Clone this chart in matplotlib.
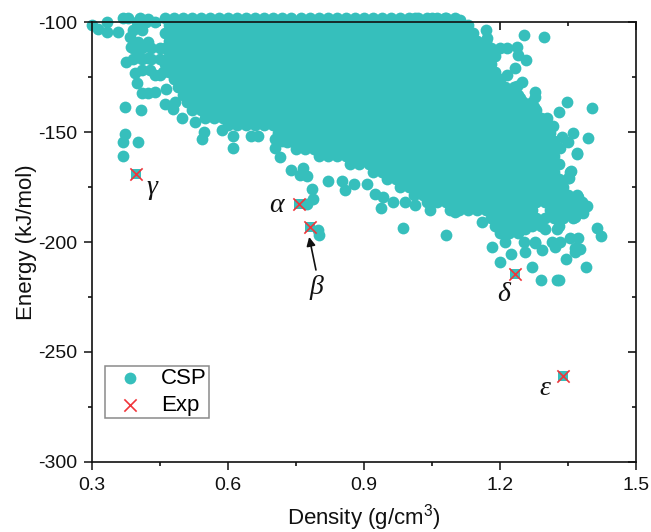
import matplotlib
matplotlib.use("Agg")
import matplotlib.pyplot as plt

plt.rcParams['font.family'] = ['Liberation Sans', 'DejaVu Sans']
plt.rcParams['mathtext.default'] = 'regular'

# dense cloud of the CSP structures, read band by band (energy, densities)
band_energy = [-98, -101.5, -105, -108.5, -112, -115.5, -119, -122.5, -126, -129.5, -133, -136.5, -140, -143.5,
               -147, -150.5, -154, -157.5, -161, -164.5, -168, -171.5, -175, -178.5, -182, -185.5, -189, -192.5, -196]
band_density = [
 [.46,.48,.50,.52,.54,.56,.58,.60,.62,.64,.66,.68,.70,.72,.74,.76,.78,.80,.82,.84,.86,.88,.90,.92,.94,.96,.98,1.00,1.02,1.04,1.06,1.08,1.10],
 [.47,.49,.51,.53,.55,.57,.59,.61,.63,.65,.67,.69,.71,.73,.75,.77,.79,.81,.83,.85,.87,.89,.91,.93,.95,.97,.99,1.01,1.03,1.05,1.07,1.09,1.11,1.13],
 [.46,.48,.50,.52,.54,.56,.58,.60,.62,.64,.66,.68,.70,.72,.74,.76,.78,.80,.82,.84,.86,.88,.90,.92,.94,.96,.98,1.00,1.02,1.04,1.06,1.08,1.10,1.12,1.14],
 [.47,.49,.51,.53,.55,.57,.59,.61,.63,.65,.67,.69,.71,.73,.75,.77,.79,.81,.83,.85,.87,.89,.91,.93,.95,.97,.99,1.01,1.03,1.05,1.07,1.09,1.11,1.13,1.15,1.17],
 [.46,.48,.50,.52,.54,.56,.58,.60,.62,.64,.66,.68,.70,.72,.74,.76,.78,.80,.82,.84,.86,.88,.90,.92,.94,.96,.98,1.00,1.02,1.04,1.06,1.08,1.10,1.12,1.14,1.16,1.18,1.20],
 [.47,.49,.51,.53,.55,.57,.59,.61,.63,.65,.67,.69,.71,.73,.75,.77,.79,.81,.83,.85,.87,.89,.91,.93,.95,.97,.99,1.01,1.03,1.05,1.07,1.09,1.11,1.13,1.15,1.17,1.19],
 [.46,.48,.50,.52,.54,.56,.58,.60,.62,.64,.66,.68,.70,.72,.74,.76,.78,.80,.82,.84,.86,.88,.90,.92,.94,.96,.98,1.00,1.02,1.04,1.06,1.08,1.10,1.12,1.14,1.16,1.18],
 [.47,.49,.51,.53,.55,.57,.59,.61,.63,.65,.67,.69,.71,.73,.75,.77,.79,.81,.83,.85,.87,.89,.91,.93,.95,.97,.99,1.01,1.03,1.05,1.07,1.09,1.11,1.13,1.15,1.17,1.19],
 [.48,.50,.52,.54,.56,.58,.60,.62,.64,.66,.68,.70,.72,.74,.76,.78,.80,.82,.84,.86,.88,.90,.92,.94,.96,.98,1.00,1.02,1.04,1.06,1.08,1.10,1.12,1.14,1.16,1.18,1.20],
 [.49,.51,.53,.55,.57,.59,.61,.63,.65,.67,.69,.71,.73,.75,.77,.79,.81,.83,.85,.87,.89,.91,.93,.95,.97,.99,1.01,1.03,1.05,1.07,1.09,1.11,1.13,1.15,1.17,1.19,1.21,1.23],
 [.50,.52,.54,.56,.58,.60,.62,.64,.66,.68,.70,.72,.74,.76,.78,.80,.82,.84,.86,.88,.90,.92,.94,.96,.98,1.00,1.02,1.04,1.06,1.08,1.10,1.12,1.14,1.16,1.18,1.20,1.22,1.24],
 [.51,.53,.55,.57,.59,.61,.63,.65,.67,.69,.71,.73,.75,.77,.79,.81,.83,.85,.87,.89,.91,.93,.95,.97,.99,1.01,1.03,1.05,1.07,1.09,1.11,1.13,1.15,1.17,1.19,1.21,1.23,1.25,1.27],
 [.52,.54,.56,.58,.60,.62,.64,.66,.68,.70,.72,.74,.76,.78,.80,.82,.84,.86,.88,.90,.92,.94,.96,.98,1.00,1.02,1.04,1.06,1.08,1.10,1.12,1.14,1.16,1.18,1.20,1.22,1.24,1.26,1.28],
 [.55,.57,.59,.61,.63,.65,.67,.69,.71,.73,.75,.77,.79,.81,.83,.85,.87,.89,.91,.93,.95,.97,.99,1.01,1.03,1.05,1.07,1.09,1.11,1.13,1.15,1.17,1.19,1.21,1.23,1.25,1.27,1.29],
 [.60,.62,.64,.66,.68,.70,.72,.74,.76,.78,.80,.82,.84,.86,.88,.90,.92,.94,.96,.98,1.00,1.02,1.04,1.06,1.08,1.10,1.12,1.14,1.16,1.18,1.20,1.22,1.24,1.26,1.28,1.30],
 [.71,.73,.75,.77,.79,.81,.83,.85,.87,.89,.91,.93,.95,.97,.99,1.01,1.03,1.05,1.07,1.09,1.11,1.13,1.15,1.17,1.19,1.21,1.23,1.25,1.27,1.29,1.31],
 [.72,.74,.76,.78,.80,.82,.84,.86,.88,.90,.92,.94,.96,.98,1.00,1.02,1.04,1.06,1.08,1.10,1.12,1.14,1.16,1.18,1.20,1.22,1.24,1.26,1.28,1.30,1.32],
 [.75,.77,.79,.81,.83,.85,.87,.89,.91,.93,.95,.97,.99,1.01,1.03,1.05,1.07,1.09,1.11,1.13,1.15,1.17,1.19,1.21,1.23,1.25,1.27,1.29,1.31],
 [.80,.82,.84,.86,.88,.90,.92,.94,.96,.98,1.00,1.02,1.04,1.06,1.08,1.10,1.12,1.14,1.16,1.18,1.20,1.22,1.24,1.26,1.28,1.30,1.32],
 [.87,.89,.91,.93,.95,.97,.99,1.01,1.03,1.05,1.07,1.09,1.11,1.13,1.15,1.17,1.19,1.21,1.23,1.25,1.27,1.29,1.31,1.33],
 [.92,.94,.96,.98,1.00,1.02,1.04,1.06,1.08,1.10,1.12,1.14,1.16,1.18,1.20,1.22,1.24,1.26,1.28,1.30,1.32],
 [.95,.97,.99,1.01,1.03,1.05,1.07,1.09,1.11,1.13,1.15,1.17,1.19,1.21,1.23,1.25,1.27,1.29,1.31,1.33],
 [.98,1.00,1.02,1.04,1.06,1.08,1.10,1.12,1.14,1.16,1.18,1.20,1.22,1.24,1.26,1.28,1.30,1.32,1.34],
 [1.01,1.03,1.05,1.07,1.09,1.11,1.13,1.15,1.17,1.19,1.21,1.23,1.25,1.27,1.29,1.31,1.33,1.35,1.37],
 [1.04,1.06,1.08,1.10,1.12,1.14,1.16,1.18,1.20,1.22,1.24,1.26,1.28,1.30,1.32,1.34,1.36,1.38],
 [1.09,1.11,1.13,1.15,1.17,1.19,1.21,1.23,1.25,1.27,1.31,1.33,1.35,1.37],
 [1.18,1.20,1.22,1.24,1.26,1.28,1.30,1.32,1.34,1.36],
 [1.19,1.21,1.23,1.25,1.27,1.29,1.33],
 [1.20,1.22,1.24],
]

# individually readable CSP points around the cloud
outlier_density = [.299,.314,.334,.334,.357,.369,.380,.406,.424,.391,.384,.410,.387,.424,.402,.376,.402,.424,.395,.410,
                   .428,.399,.410,.424,.439,.463,.373,.408,.460,.479,.483,.498,.373,.369,.402,.369,.542,.612,.527,.546,
                   .586,.610,.651,.667,.704,.731,.704,.715,.740,.759,.774,.766,.821,.851,.858,.878,.786,.788,.774,.799,
                   .801,.457,.494,.512,1.169,1.171,1.254,1.296,1.215,1.237,1.240,1.257,1.233,1.215,1.248,1.237,1.277,1.277,
                   1.244,1.274,1.347,1.330,1.402,1.304,1.318,1.360,1.336,1.394,1.351,1.370,1.332,1.356,1.351,.907,.924,.941,
                   .937,.965,.990,1.013,1.046,.987,1.080,1.101,1.130,1.160,1.354,1.373,1.391,1.384,1.365,1.415,1.422,1.354,
                   1.373,1.314,1.332,1.252,1.277,1.049,1.079,1.112,1.013,1.182,1.200,1.224,1.271,1.291,1.325,1.331,1.346,1.390,
                   1.255,1.277,1.293,1.321,1.366,1.377,1.366,1.211,1.299,1.325,1.255,1.369,1.354,1.353,
                   .40,.42,.44,.39,.41,.43,.45,.39,.41,.43,.45,.44,.45]
outlier_energy = [-101.4,-103.2,-99.8,-104.7,-104.7,-98.3,-98.3,-98.0,-98.6,-103.6,-106.7,-103.6,-111.2,-109,-109,-118.3,-115.8,-116.5,-123.3,-121.8,
                  -121.8,-127.9,-132.4,-132.4,-131.7,-130.6,-138.8,-140,-137.4,-139.5,-136.2,-143.5,-151,-154.4,-154.7,-160.9,-153.3,-157.4,-145.3,-149.8,
                  -149.1,-151.8,-151.8,-151.8,-153.3,-154.7,-157.4,-161.2,-167.3,-169.5,-170,-166.5,-172.3,-172.1,-176.4,-173.6,-175.9,-180.6,-182.7,-194.5,
                  -196.8,-122.6,-126.4,-130.2,-103.6,-107.4,-105.9,-107,-111.7,-111.2,-115,-117.3,-121.1,-124.1,-127.1,-129.1,-132,-134,
                  -134.7,-138.5,-136.5,-140.8,-139,-143.5,-147.1,-150.6,-152.4,-152.9,-154.7,-159.5,-157.4,-167.7,-171.1,-173.8,-178.3,-179.4,
                  -184.7,-181.7,-182,-183.2,-185.5,-193.5,-196.8,-186.2,-184.7,-190.8,-179.4,-179.4,-183.6,-187,-188.5,-193.5,-197.1,-198.3,
                  -198,-199.8,-200.1,-199.8,-200.1,-98.3,-98.3,-99.1,-98.3,-202.1,-209.3,-205.5,-211.2,-217.3,-217.3,-217.3,-207.7,-211.5,
                  -204.4,-200.6,-203.7,-202.1,-202.9,-203.4,-204.4,-199.9,-194.3,-194.3,-194.3,-160,-168,-171,
                  -100,-100,-100,-112,-112,-112,-112,-117,-117,-117,-117,-124,-124]

# experimental forms
exp_names = ['γ', 'α', 'β', 'δ', 'ε']
exp_density = [.398, .757, .780, 1.232, 1.338]
exp_energy = [-169, -182.5, -193, -214.6, -261]

label_density = [.432, .708, .794, 1.207, 1.30]
label_energy = [-175, -183.6, -220.5, -224, -266.8]

x_ticks = [0.3, 0.6, 0.9, 1.2, 1.5]
x_minor = [0.45, 0.75, 1.05, 1.35]
y_ticks = [-100, -150, -200, -250, -300]
y_minor = [-125, -175, -225, -275]

COLOR = '#36BFBC'
RED = '#F0353A'

fig = plt.figure(figsize=(6.51, 5.32), dpi=100)
W, H = 651, 532
ax = fig.add_axes([92/W, 1-462/H, (636-92)/W, (462-22)/H])

xs, ys = [], []
for e, row in zip(band_energy, band_density):
    xs.extend(row)
    ys.extend([e]*len(row))
xs.extend(outlier_density)
ys.extend(outlier_energy)
ax.scatter(xs, ys, s=72, color=COLOR, linewidths=0, clip_on=False, zorder=1, label='CSP')
ax.scatter(exp_density, exp_energy, s=52, marker='s', color=COLOR, linewidths=0, clip_on=False, zorder=1.2)
ax.scatter(exp_density, exp_energy, s=78, marker='x', color=RED, linewidths=1.2, clip_on=False, zorder=3, label='Exp')

ax.set_xlim(0.3, 1.5)
ax.set_ylim(-300, -100)
ax.set_xticks(x_ticks)
ax.set_xticklabels(['0.3', '0.6', '0.9', '1.2', '1.5'])
ax.set_xticks(x_minor, minor=True)
ax.set_yticks(y_ticks)
ax.set_yticklabels(['-100', '-150', '-200', '-250', '-300'])
ax.set_yticks(y_minor, minor=True)
ax.tick_params(axis='both', which='major', direction='out', length=5.5, width=1.1, labelsize=14, pad=5, colors='#111111')
ax.tick_params(axis='both', which='minor', direction='out', length=3.2, width=1.1)
for spine in ax.spines.values():
    spine.set_linewidth(1.2)
    spine.set_color('#111111')

sx = ax.secondary_xaxis('top')
sx.set_xticks(x_ticks)
sx.set_xticks(x_minor, minor=True)
sx.tick_params(axis='x', which='major', direction='in', length=5.5, width=1.1, labeltop=False)
sx.tick_params(axis='x', which='minor', direction='in', length=3.2, width=1.1)
sx.spines['top'].set_visible(False)
sy = ax.secondary_yaxis('right')
sy.set_yticks(y_ticks)
sy.set_yticks(y_minor, minor=True)
sy.tick_params(axis='y', which='major', direction='in', length=5.5, width=1.1, labelright=False)
sy.tick_params(axis='y', which='minor', direction='in', length=3.2, width=1.1)
sy.spines['right'].set_visible(False)

ax.set_xlabel('Density (g/cm$^3$)', fontsize=16, labelpad=6, color='#111111')
ax.set_ylabel('Energy (kJ/mol)', fontsize=16, labelpad=1, color='#111111')

for name, x, y in zip(exp_names, label_density, label_energy):
    ax.text(x, y, name, fontsize=20, style='italic', family=['Liberation Serif', 'DejaVu Serif'],
            ha='center', va='center', color='#111111')

ax.annotate('', xy=(.779, -197.7), xytext=(.794, -212.7),
            arrowprops=dict(arrowstyle='-|>', color='#111111', lw=1.2, mutation_scale=13, shrinkA=0, shrinkB=0))

leg = ax.legend(loc='upper left', bbox_to_anchor=((105-92)/544, 1-(366-22)/440), borderaxespad=0,
                fontsize=16, frameon=True, fancybox=False, edgecolor='#8a8a8a', framealpha=1,
                labelspacing=0.25, handletextpad=0.36, borderpad=0.1, handlelength=2.06, scatterpoints=1)
leg.get_frame().set_linewidth(1.1)
leg.set_zorder(5)

fig.savefig('out.png', dpi=100)
